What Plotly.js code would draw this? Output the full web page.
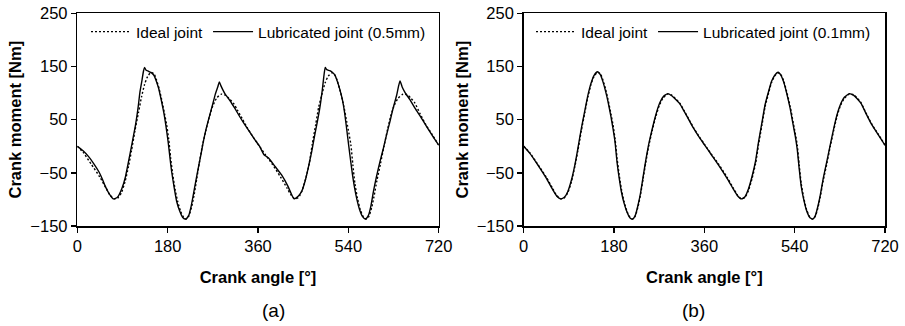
<!DOCTYPE html>
<html>
<head>
<meta charset="utf-8">
<script src="https://cdn.plot.ly/plotly-3.0.1.min.js"></script>
<style>html,body{margin:0;padding:0;background:#fff;}#chart{width:905px;height:326px;}</style>
</head>
<body>
<div id="chart"></div>
<script>
// Crank angle samples [deg] for the ideal joint and the 0.1 mm lubricated joint
const angleB = [0,12,28,45,58,66,74,81,88,95,
  102,108,115,122,128,134,140,147,153,158,
  163,168,174,178,182,186,190,195,200,206,
  212,217,222,228,233,238,243,249,256,263,
  270,278,287,295,303,311,319,329,339,349,
  360,374,388,405,418,426,434,441,448,455,
  462,468,475,481,488,494,500,507,513,518,
  524,531,537,541,545,549,553,558,564,570,
  576,581,587,591,597,604,611,618,624,631,
  639,649,657,665,672,683,694,707,720];

// Ideal joint crank moment [Nm]
const idealMoment = [0,-12,-34,-58,-80,-93,-99,-97,-87,-67,
  -38,-8,30,64,93,116,131,139,136,124,
  108,88,60,40,14,-22,-52,-82,-104,-123,
  -134,-137,-132,-113,-90,-61,-32,0,29,55,
  76,91,98,96,89,81,68,51,34,19,
  4,-15,-33,-58,-79,-92,-99,-96,-83,-61,
  -33,3,41,74,100,120,132,138,134,123,
  103,75,45,25,3,-35,-70,-97,-120,-133,
  -137,-132,-113,-95,-64,-33,0,31,55,76,
  90,98,97,90,82,61,41,22,2];

// Lubricated joint, clearance 0.1 mm [Nm]
const lub01Moment = [0,-13,-35,-60,-82,-94,-99,-96,-85,-64,
  -35,-4,34,68,96,118,133,140,134,121,
  104,84,55,33,8,-30,-58,-87,-107,-124,
  -135,-137,-131,-110,-87,-57,-28,3,32,58,
  79,93,99,95,88,80,67,50,33,18,
  3,-16,-35,-60,-81,-93,-99,-95,-80,-57,
  -28,8,46,78,103,122,133,139,133,121,
  100,71,40,20,-5,-42,-75,-100,-122,-134,
  -137,-131,-110,-92,-60,-29,3,34,58,78,
  92,99,96,89,81,60,40,21,2];

// Crank angle samples [deg] for the 0.5 mm lubricated joint
const angleA = [0,11,23,33,43,50,56,64,72,80,
  89,96,102,109,116,121,125,129,132,134,
  137,142,148,153,158,162,167,172,176,181,
  185,188,193,198,204,210,216,222,227,231,
  236,241,246,251,257,264,270,275,280,283,
  286,290,294,304,314,324,334,344,354,363,
  372,381,394,407,420,427,432,440,447,454,
  460,467,473,478,483,488,491,494,497,503,
  508,513,518,523,528,533,538,543,548,552,
  557,562,568,574,580,585,590,596,603,610,
  616,623,629,636,640,643,647,653,663,673,
  685,696,708,720];

// Lubricated joint, clearance 0.5 mm [Nm]
const lub05Moment = [0,-8,-20,-33,-48,-62,-76,-90,-99,-96,
  -79,-57,-29,5,40,72,103,125,142,148,
  143,141,138,133,121,109,88,65,42,8,
  -25,-48,-78,-104,-122,-134,-137,-130,-112,-92,
  -66,-41,-17,8,34,59,80,98,112,121,
  114,106,99,86,71,55,40,26,12,0,
  -16,-22,-38,-54,-76,-91,-99,-94,-85,-65,
  -41,-10,21,45,71,105,130,148,144,142,
  139,134,122,107,88,60,22,-16,-52,-76,
  -100,-118,-132,-137,-130,-112,-85,-57,-29,-3,
  21,47,71,95,113,123,112,101,87,71,
  54,37,19,2];

const xTicks = [0,180,360,540,720];
const yTicks = [-150,-50,50,150,250];
const legendNames = ['Ideal joint','Lubricated joint (0.5mm)','Lubricated joint (0.1mm)'];
const panelLabels = ['(a)','(b)'];

const FONT = 'Liberation Sans, Arial, Helvetica, sans-serif';
const dotted = {color:'#000', width:1.4, dash:'2px,2px', shape:'spline', smoothing:0.6};
const solid = {color:'#000', width:1.4, shape:'spline', smoothing:0.5};

const traces = [
  {x:angleB, y:idealMoment, type:'scatter', mode:'lines', name:legendNames[0], line:dotted, xaxis:'x', yaxis:'y', legend:'legend'},
  {x:angleA, y:lub05Moment, type:'scatter', mode:'lines', name:legendNames[1], line:solid, xaxis:'x', yaxis:'y', legend:'legend'},
  {x:angleB, y:idealMoment, type:'scatter', mode:'lines', name:legendNames[0], line:dotted, xaxis:'x2', yaxis:'y2', legend:'legend2'},
  {x:angleB, y:lub01Moment, type:'scatter', mode:'lines', name:legendNames[2], line:solid, xaxis:'x2', yaxis:'y2', legend:'legend2'}
];

function xax(domain, anchor){
  return {domain:domain, anchor:anchor, range:[0,720], tickvals:xTicks, ticktext:xTicks.map(String),
    showline:true, mirror:true, linecolor:'#000', linewidth:1.5, ticks:'outside', ticklen:5, tickcolor:'#000', tickwidth:1.5,
    showgrid:false, zeroline:false, tickfont:{family:FONT, size:16.5, color:'#000'},
    title:{text:'<b>Crank angle [°]</b>', font:{family:FONT, size:16.5, color:'#000'}, standoff:17}};
}
function yax(domain, anchor){
  return {domain:domain, anchor:anchor, range:[-150,250], tickvals:yTicks, ticktext:yTicks.map(v=>v<0?'\u2212'+Math.abs(v):String(v)),
    showline:true, mirror:true, linecolor:'#000', linewidth:1.5, ticks:'outside', ticklen:5, tickcolor:'#000', tickwidth:1.5,
    showgrid:false, zeroline:false, tickfont:{family:FONT, size:16.5, color:'#000'},
    title:{text:'<b>Crank moment [Nm]</b>', font:{family:FONT, size:16.5, color:'#000'}, standoff:4}};
}

const yDom = [1-226/326, 1-13.3/326];
const legendBase = {orientation:'h', bgcolor:'rgba(0,0,0,0)', borderwidth:0, font:{family:FONT, size:15.5, color:'#000'},
  xanchor:'left', yanchor:'middle', itemwidth:40, tracegroupgap:0};

const layout = {
  width:905, height:326, margin:{l:0,r:0,t:0,b:0}, paper_bgcolor:'#fff', plot_bgcolor:'#fff',
  showlegend:true,
  xaxis: xax([77.3/905, 438.7/905], 'y'),
  yaxis: yax(yDom, 'x'),
  xaxis2: xax([523.7/905, 885/905], 'y2'),
  yaxis2: yax(yDom, 'x2'),
  legend: Object.assign({}, legendBase, {x:86/905, y:1-32/326}),
  legend2: Object.assign({}, legendBase, {x:531/905, y:1-32/326}),
  annotations:[
    {text:panelLabels[0], xref:'paper', yref:'paper', x:260/905, y:1-310/326, yanchor:'middle', showarrow:false, font:{family:FONT, size:19, color:'#000'}},
    {text:panelLabels[1], xref:'paper', yref:'paper', x:707/905, y:1-310/326, yanchor:'middle', showarrow:false, font:{family:FONT, size:19, color:'#000'}}
  ]
};

Plotly.newPlot('chart', traces, layout, {displayModeBar:false, staticPlot:true});
</script>
</body>
</html>
